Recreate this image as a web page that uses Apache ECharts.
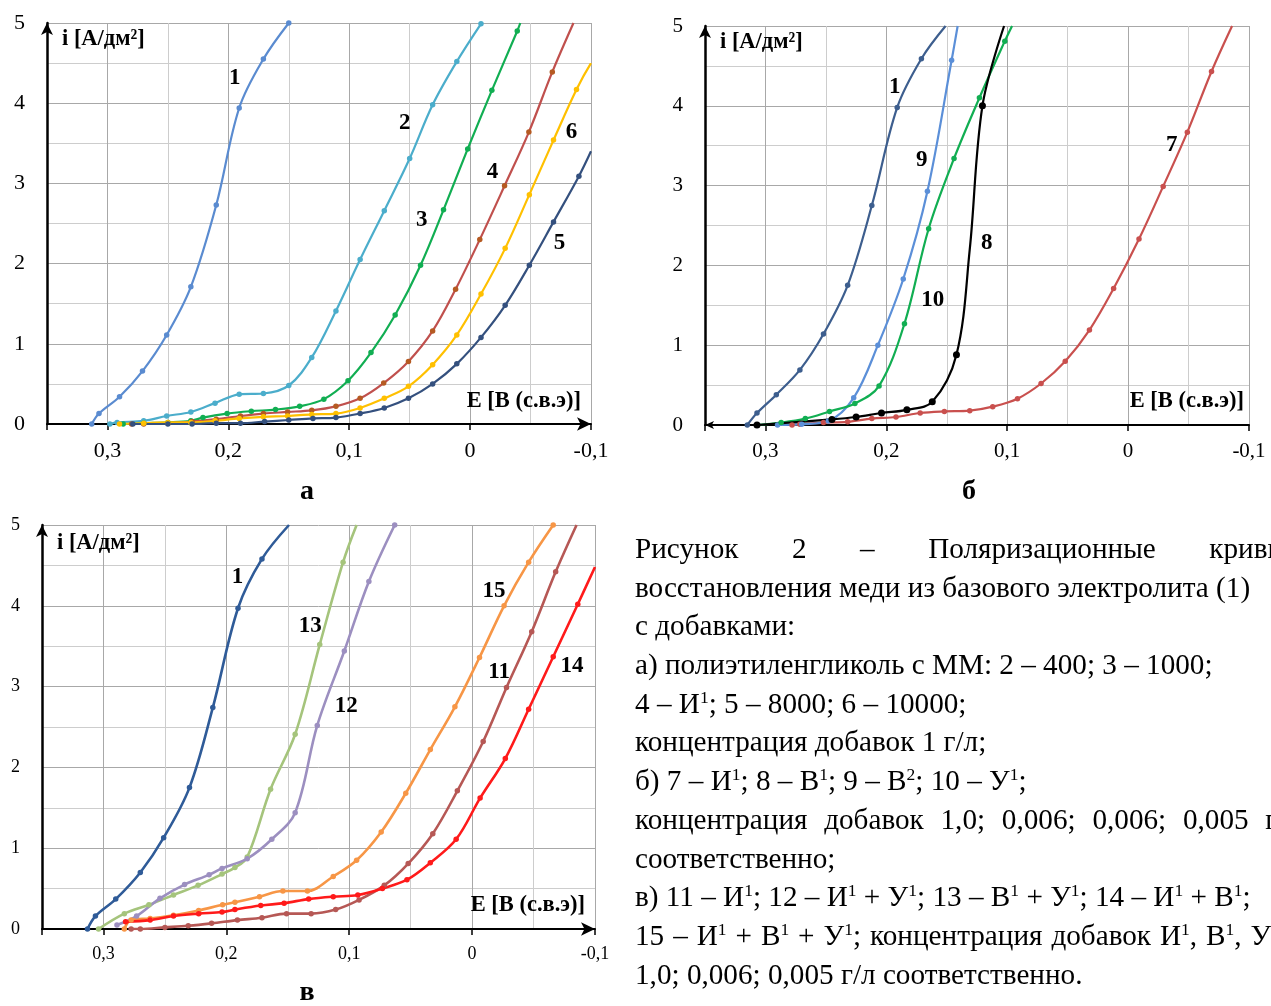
<!DOCTYPE html>
<html><head><meta charset="utf-8">
<script src="https://cdn.jsdelivr.net/npm/echarts@6/dist/echarts.min.js"></script>
<style>
html,body{margin:0;padding:0;background:#fff;overflow:hidden;width:1271px;height:1006px}
#chart{position:absolute;left:0;top:0;width:1271px;height:1006px}
#cap{position:absolute;left:635px;top:529px;width:665px;font-family:"Liberation Serif","Times New Roman",serif;font-size:29.2px;color:#000}
#cap div{height:38.7px;line-height:38.7px;white-space:nowrap}
#cap div.j{text-align:justify;text-align-last:justify;white-space:normal;overflow:visible}
#cap sup{font-size:0.6em;vertical-align:0.6em;line-height:0}
</style>
</head><body>
<div id="chart"></div>
<div id="cap">
<div class="j">Рисунок 2 – Поляризационные кривые</div>
<div>восстановления меди из базового электролита (1)</div>
<div>с добавками:</div>
<div>а) полиэтиленгликоль с ММ: 2 – 400; 3 – 1000;</div>
<div>4 – И<sup>1</sup>; 5 – 8000; 6 – 10000;</div>
<div>концентрация добавок 1 г/л;</div>
<div>б) 7 – И<sup>1</sup>; 8 – В<sup>1</sup>; 9 – В<sup>2</sup>; 10 – У<sup>1</sup>;</div>
<div class="j">концентрация добавок 1,0; 0,006; 0,006; 0,005 г/л</div>
<div>соответственно;</div>
<div>в) 11 – И<sup>1</sup>; 12 – И<sup>1</sup> + У<sup>1</sup>; 13 – В<sup>1</sup> + У<sup>1</sup>; 14 – И<sup>1</sup> + В<sup>1</sup>;</div>
<div class="j" style="width:645px">15 – И<sup>1</sup> + В<sup>1</sup> + У<sup>1</sup>; концентрация добавок И<sup>1</sup>, В<sup>1</sup>, У<sup>1</sup></div>
<div>1,0; 0,006; 0,005 г/л соответственно.</div>
</div>
<script>
// ---- tick labels ----
const xTickValues = [0.3, 0.2, 0.1, 0, -0.1];
const xTickLabels = ['0,3', '0,2', '0,1', '0', '-0,1'];
const yTickLabels = ['0', '1', '2', '3', '4', '5'];

// ---- panel а : [E (V), i (A/dm2)] ----
const a1 = [[0.313,0],[0.307,0.13],[0.29,0.34],[0.271,0.66],[0.251,1.11],[0.231,1.71],[0.21,2.73],[0.191,3.94],[0.171,4.55],[0.15,5.0]];
const a2 = [[0.298,0],[0.292,0.02],[0.27,0.04],[0.251,0.10],[0.231,0.15],[0.211,0.26],[0.191,0.37],[0.171,0.38],[0.15,0.48],[0.131,0.83],[0.111,1.41],[0.091,2.05],[0.071,2.66],[0.05,3.31],[0.031,3.98],[0.011,4.52],[-0.009,4.99]];
const a3 = [[0.287,0],[0.27,0.01],[0.25,0.02],[0.231,0.04],[0.221,0.08],[0.201,0.13],[0.181,0.16],[0.161,0.18],[0.141,0.22],[0.121,0.31],[0.101,0.54],[0.082,0.89],[0.062,1.36],[0.041,1.98],[0.022,2.67],[0.002,3.43],[-0.018,4.16],[-0.039,4.90],[-0.0415,5.0]];
const a4 = [[0.28,0],[0.27,0.0],[0.25,0.01],[0.23,0.03],[0.21,0.06],[0.19,0.10],[0.171,0.13],[0.151,0.15],[0.131,0.17],[0.111,0.22],[0.091,0.32],[0.0715,0.51],[0.051,0.78],[0.031,1.16],[0.012,1.68],[-0.008,2.30],[-0.0285,2.97],[-0.0486,3.64],[-0.068,4.39],[-0.0855,5.0]];
const a5 = [[0.279,0],[0.25,0.0],[0.23,0.0],[0.21,0.01],[0.19,0.01],[0.17,0.03],[0.15,0.05],[0.13,0.07],[0.111,0.08],[0.091,0.13],[0.071,0.20],[0.051,0.32],[0.031,0.50],[0.011,0.75],[-0.009,1.08],[-0.029,1.48],[-0.049,1.98],[-0.069,2.52],[-0.09,3.09],[-0.1,3.40]];
const a6 = [[0.29,0],[0.27,0.01],[0.25,0.02],[0.231,0.02],[0.211,0.04],[0.191,0.07],[0.171,0.09],[0.151,0.10],[0.131,0.12],[0.111,0.13],[0.091,0.20],[0.071,0.32],[0.051,0.47],[0.031,0.74],[0.011,1.11],[-0.009,1.62],[-0.029,2.19],[-0.049,2.86],[-0.069,3.54],[-0.088,4.17],[-0.1,4.50]];

// ---- panel б ----
const b1 = [[0.315,0],[0.307,0.15],[0.291,0.38],[0.2715,0.69],[0.252,1.14],[0.232,1.75],[0.212,2.75],[0.191,3.98],[0.171,4.59],[0.151,5.0]];
const b7 = [[0.278,0],[0.2715,0.01],[0.252,0.03],[0.232,0.04],[0.212,0.08],[0.192,0.10],[0.172,0.15],[0.152,0.17],[0.131,0.18],[0.112,0.23],[0.0915,0.33],[0.072,0.52],[0.052,0.80],[0.032,1.19],[0.012,1.71],[-0.009,2.33],[-0.029,2.99],[-0.049,3.67],[-0.069,4.43],[-0.086,5.0]];
const b8 = [[0.307,0],[0.245,0.07],[0.225,0.10],[0.204,0.15],[0.183,0.19],[0.162,0.29],[0.142,0.88],[0.131,2.2],[0.1205,4.0],[0.1026,5.0]];
const b9 = [[0.29,0],[0.27,0.01],[0.248,0.05],[0.227,0.34],[0.207,1.0],[0.186,1.83],[0.166,2.93],[0.146,4.57],[0.141,5.0]];
const b10 = [[0.307,0],[0.287,0.03],[0.267,0.08],[0.247,0.17],[0.226,0.27],[0.206,0.49],[0.185,1.27],[0.165,2.46],[0.144,3.34],[0.123,4.10],[0.102,4.81],[0.096,5.0]];

// ---- panel в ----
const c1 = [[0.313,0],[0.3065,0.16],[0.29,0.37],[0.27,0.70],[0.251,1.13],[0.23,1.75],[0.211,2.74],[0.1905,3.97],[0.171,4.58],[0.149,5.0]];
const c11 = [[0.2775,0],[0.27,0],[0.25,0.02],[0.231,0.04],[0.212,0.07],[0.191,0.11],[0.171,0.14],[0.151,0.19],[0.131,0.19],[0.111,0.24],[0.092,0.36],[0.0715,0.54],[0.052,0.81],[0.032,1.18],[0.012,1.71],[-0.009,2.32],[-0.028,2.99],[-0.0485,3.68],[-0.068,4.42],[-0.085,5.0]];
const c12 = [[0.289,0.05],[0.273,0.16],[0.254,0.38],[0.234,0.55],[0.214,0.67],[0.2035,0.75],[0.183,0.87],[0.163,1.11],[0.144,1.44],[0.126,2.52],[0.104,3.44],[0.084,4.30],[0.063,5.0]];
const c13 = [[0.304,0],[0.283,0.19],[0.263,0.30],[0.243,0.42],[0.223,0.54],[0.2035,0.68],[0.193,0.76],[0.183,0.89],[0.164,1.73],[0.144,2.41],[0.124,3.52],[0.105,4.54],[0.094,5.0]];
const c14 = [[0.282,0.09],[0.262,0.11],[0.243,0.16],[0.2225,0.19],[0.2035,0.21],[0.193,0.24],[0.172,0.29],[0.153,0.32],[0.133,0.37],[0.113,0.40],[0.093,0.42],[0.073,0.50],[0.053,0.61],[0.034,0.82],[0.013,1.11],[-0.0065,1.62],[-0.027,2.11],[-0.046,2.72],[-0.066,3.37],[-0.086,4.02],[-0.1,4.48]];
const c15 = [[0.283,0],[0.2775,0.11],[0.262,0.13],[0.243,0.17],[0.2225,0.23],[0.203,0.30],[0.193,0.33],[0.173,0.40],[0.154,0.47],[0.134,0.47],[0.113,0.65],[0.094,0.85],[0.074,1.20],[0.054,1.68],[0.034,2.22],[0.014,2.75],[-0.006,3.36],[-0.026,4.0],[-0.046,4.54],[-0.066,5.0]];

// ---- curve number labels, placed at data coordinates ----
const labelsA = [['1',0.1946,4.31],['2',0.0541,3.75],['3',0.04,2.54],['4',-0.0186,3.14],['6',-0.0839,3.64],['5',-0.074,2.26]];
const labelsB = [['1',0.193,4.24],['9',0.1707,3.32],['10',0.1616,1.57],['8',0.117,2.28],['7',-0.036,3.51]];
const labelsC = [['1',0.191,4.36],['13',0.1317,3.75],['12',0.1024,2.76],['15',-0.0179,4.18],['11',-0.022,3.18],['14',-0.0813,3.25]];

const SERIF = '"Liberation Serif","Times New Roman",serif';

const panels = [
  { grid:{left:47, top:23, width:544, height:401}, lab:22, arrowRight:true, lw:2.2,
    curves:[
      {d:a1, c:'#5A8BD0', hide:[]},
      {d:a2, c:'#4BADCB', hide:[]},
      {d:a3, c:'#11AE52', hide:[18]},
      {d:a4, c:'#C0504D', m:'#B55A22', hide:[19]},
      {d:a6, c:'#FFC000', hide:[20]},
      {d:a5, c:'#34507E', hide:[19]}
    ], labels:labelsA },
  { grid:{left:705, top:26, width:544, height:399}, lab:21, arrowRight:false, lw:2.2,
    curves:[
      {d:b7, c:'#C9504E', hide:[19]},
      {d:b1, c:'#3D5E8E', hide:[9]},
      {d:b9, c:'#5B8FD8', hide:[8]},
      {d:b10, c:'#11AE52', hide:[11]},
      {d:b8, c:'#000000', hide:[7,9], size:7}
    ], labels:labelsB },
  { grid:{left:42, top:525, width:553, height:404}, lab:18, arrowRight:true, lw:2.6,
    curves:[
      {d:c1, c:'#2F5B98', hide:[9]},
      {d:c13, c:'#A5C47C', hide:[12]},
      {d:c12, c:'#9C8FC0', hide:[]},
      {d:c11, c:'#B65855', hide:[19]},
      {d:c15, c:'#F79646', hide:[]},
      {d:c14, c:'#FF1A1A', hide:[20]}
    ], labels:labelsC }
];

function fmtX(v){
  for (let k=0;k<xTickValues.length;k++) if (Math.abs(v-xTickValues[k])<1e-6) return xTickLabels[k];
  return '';
}

const grid=[], xAxis=[], yAxis=[], series=[];
panels.forEach((p,k)=>{
  grid.push(Object.assign({containLabel:false}, p.grid));
  xAxis.push({
    type:'value', gridIndex:k, min:-0.1, max:0.35, interval:0.1, inverse:true, position:'bottom',
    axisLine:{show:true, onZero:false, lineStyle:{color:'#000', width:2},
      symbol: p.arrowRight ? ['none','arrow'] : ['arrow','none'],
      symbolSize: p.arrowRight ? [10,14] : [6,9]},
    axisTick:{show:true, length:6, lineStyle:{color:'#000', width:1.5}},
    axisLabel:{formatter:fmtX, color:'#000', fontSize:p.lab, fontFamily:SERIF, margin:16, showMaxLabel:true, showMinLabel:true},
    splitLine:{show:true, lineStyle:{color:'#a8a8a8', width:1}},
    minorTick:{show:false, splitNumber:2},
    minorSplitLine:{show:true, lineStyle:{color:'#cdcdcd', width:1}}
  });
  yAxis.push({
    type:'value', gridIndex:k, min:0, max:5, interval:1, position:'left',
    axisLine:{show:true, onZero:false, lineStyle:{color:'#000', width:2.5}, symbol:['none','arrow'], symbolSize:[9,12]},
    axisTick:{show:false},
    axisLabel:{formatter:(v)=>yTickLabels[Math.round(v)] || '', color:'#000', fontSize:p.lab, fontFamily:SERIF, margin:22},
    splitLine:{show:true, lineStyle:{color:'#a8a8a8', width:1}},
    minorTick:{show:false, splitNumber:2},
    minorSplitLine:{show:true, lineStyle:{color:'#cdcdcd', width:1}}
  });
  p.curves.forEach(cv=>{
    series.push({
      type:'line', xAxisIndex:k, yAxisIndex:k, smooth:0.35, clip:true,
      symbol:'circle', symbolSize:cv.size||5.5, showSymbol:true, showAllSymbol:true,
      lineStyle:{color:cv.c, width:p.lw}, itemStyle:{color:cv.m||cv.c},
      data: cv.d.map((pt,j)=> cv.hide.indexOf(j)>=0 ? {value:pt, symbol:'none'} : pt),
      animation:false, silent:true
    });
  });
});

const chart = echarts.init(document.getElementById('chart'), null, {renderer:'canvas'});
chart.setOption({backgroundColor:'#fff', animation:false, grid, xAxis, yAxis, series});

// graphic texts
const g = [];
function txt(text, x, y, size, align, bold){
  g.push({type:'text', silent:true, z:100, style:{text, x, y, fill:'#000',
    font:(bold?'bold ':'')+size+'px '+SERIF, textAlign:align, textVerticalAlign:'middle', align:align, verticalAlign:'middle'}});
}
panels.forEach((p,k)=>{
  p.labels.forEach(l=>{
    const px = chart.convertToPixel({xAxisIndex:k, yAxisIndex:k}, [l[1], l[2]]);
    txt(l[0], px[0], px[1], 23, 'center', true);
  });
});
// axis titles
txt('i [A/дм²]', 62, 39, 22.5, 'left', true);
txt('E [В (с.в.э)]', 581, 401, 22.5, 'right', true);
txt('i [A/дм²]', 720, 42, 22.5, 'left', true);
txt('E [В (с.в.э)]', 1244, 401, 22.5, 'right', true);
txt('i [A/дм²]', 57, 543, 22.5, 'left', true);
txt('E [В (с.в.э)]', 585, 905, 22.5, 'right', true);
// panel letters
txt('а', 307, 492, 28, 'center', true);
txt('б', 969, 492, 28, 'center', true);
txt('в', 307, 993, 28, 'center', true);
chart.setOption({graphic: g});
</script>
</body></html>
